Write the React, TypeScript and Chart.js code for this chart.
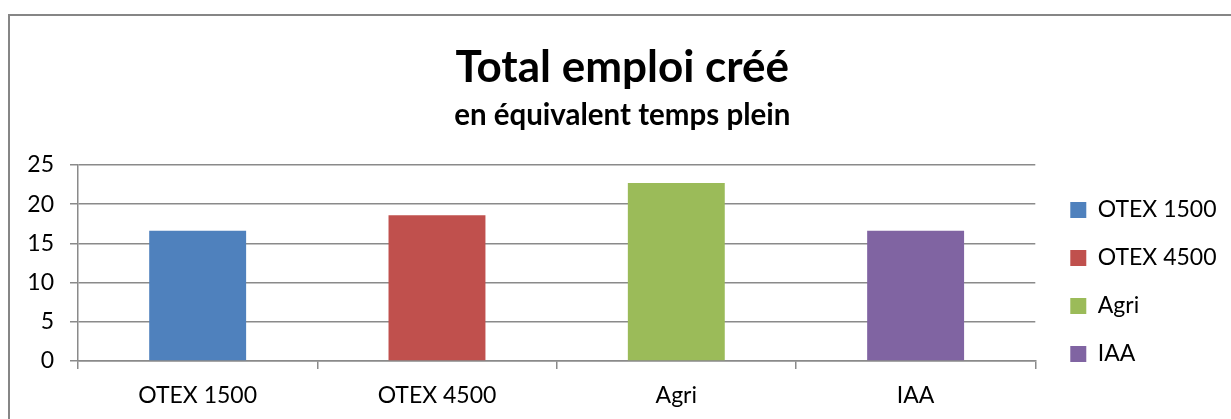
import React, { useEffect, useRef } from "react";
import { Chart, registerables } from "chart.js";

Chart.register(...registerables);

const categories = ["OTEX 1500", "OTEX 4500", "Agri", "IAA"];
const values = [16.6, 18.6, 22.7, 16.6];
const colors = ["#4F81BD", "#C0504D", "#9BBB59", "#8064A2"];
const yTicks = [0, 5, 10, 15, 20, 25];
const titleText = "Total emploi créé";
const subtitleText = "en équivalent temps plein";

const GRID = "#8a8a8a";

export default function App() {
  const ref = useRef<HTMLCanvasElement | null>(null);

  useEffect(() => {
    document.documentElement.style.overflow = "hidden";
    document.body.style.overflow = "hidden";
    if (!ref.current) return;
    Chart.defaults.font.family = "Lato";
    const chart = new Chart(ref.current, {
      type: "bar",
      data: {
        labels: categories,
        datasets: categories.map((name, i) => ({
          label: name,
          data: categories.map((_, j) => (j === i ? values[i] : null)),
          backgroundColor: colors[i],
          borderWidth: 0,
          barPercentage: 1,
          categoryPercentage: 0.405,
          skipNull: true,
        })),
      },
      options: {
        animation: false,
        responsive: false,
        devicePixelRatio: 1,
        layout: { padding: { left: 10, right: 4.5, top: 0, bottom: 0 } },
        plugins: {
          tooltip: { enabled: false },
          title: {
            display: true,
            text: titleText,
            color: "#000",
            font: { family: "Lato", size: 44, weight: "bold" },
            padding: { top: 27.6, bottom: 0 },
          },
          subtitle: {
            display: true,
            text: subtitleText,
            color: "#000",
            font: { family: "Lato", size: 29.5, weight: "bold" },
            padding: { top: 3.4, bottom: 31.8 },
          },
          legend: {
            display: true,
            position: "right",
            align: "start",
            title: {
              display: true,
              text: " ",
              font: { size: 12 },
              padding: { top: 145.1, bottom: 0 },
            },
            labels: {
              color: "#000",
              font: { family: "Lato", size: 23 },
              boxWidth: 16,
              boxHeight: 16,
              padding: 25,
            },
          },
        },
        scales: {
          x: {
            type: "category",
            grid: {
              display: true,
              drawOnChartArea: false,
              drawTicks: true,
              tickLength: 8,
              offset: true,
              color: GRID,
              lineWidth: 1.5,
            },
            border: { display: true, color: GRID, width: 1.5 },
            ticks: {
              color: "#000",
              font: { family: "Lato", size: 23 },
              padding: 13,
              maxRotation: 0,
            },
            afterFit: (s: any) => {
              s.height = 58;
            },
          },
          y: {
            min: 0,
            max: 25,
            afterBuildTicks: (s: any) => {
              s.ticks = yTicks.map((v) => ({ value: v }));
            },
            grid: {
              color: GRID,
              lineWidth: 1.5,
              drawTicks: true,
              tickLength: 8,
            },
            border: { display: true, color: GRID, width: 1.5 },
            ticks: {
              color: "#000",
              font: { family: "Lato", size: 23 },
              padding: 16,
            },
            afterFit: (s: any) => {
              s.width = 60;
            },
          },
          yR: {
            position: "right",
            display: true,
            grid: { display: false },
            border: { display: false },
            ticks: { display: false },
            afterFit: (s: any) => {
              s.width = 10;
            },
          },
        },
      },
    });
    return () => chart.destroy();
  }, []);

  return (
    <div style={{ position: "relative", height: 0 }}>
      <div
        style={{
          position: "fixed",
          left: 8,
          top: 14,
          width: 1300,
          height: 500,
          borderTop: "2px solid #868686",
          borderLeft: "2px solid #868686",
          boxSizing: "border-box",
        }}
      />
      <canvas
        ref={ref}
        width={1223}
        height={405}
        style={{ position: "fixed", left: 8, top: 14, width: 1223, height: 405 }}
      />
    </div>
  );
}
